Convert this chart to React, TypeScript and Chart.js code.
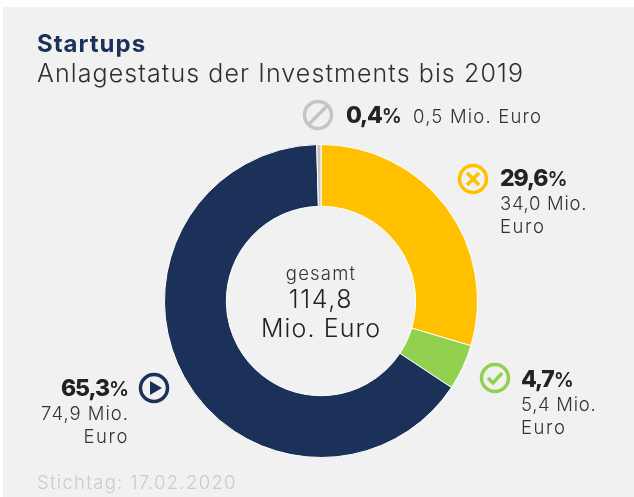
import React, { useEffect, useRef } from "react";
import { Chart, registerables } from "chart.js";

Chart.register(...registerables);

const categories = ["Beendet", "Realisiert", "Laufend", "Sonstige"];
const valuesMio = [34.0, 5.4, 74.9, 0.5];
const colors = ["#ffc000", "#92d14f", "#1c3159", "#c4c4c4"];
const percentLabels = ["29,6", "4,7", "65,3", "0,4"];
const amountLabels = [["34,0 Mio.", "Euro"], ["5,4 Mio.", "Euro"], ["74,9 Mio.", "Euro"], ["0,5 Mio. Euro"]];
const titleText = "Startups";
const subtitleText = "Anlagestatus der Investments bis 2019";
const centerLines = ["gesamt", "114,8", "Mio. Euro"];
const footerText = "Stichtag: 17.02.2020";

const FONT = "Inter, sans-serif";
const BG = "#f1f1f1";

function text(ctx: any, s: string, x: number, y: number, font: string, color: string, align: string = "left", spacing = 0) {
  ctx.font = font;
  ctx.fillStyle = color;
  ctx.textAlign = align;
  ctx.textBaseline = "alphabetic";
  ctx.letterSpacing = spacing + "px";
  ctx.fillText(s, x, y);
  ctx.letterSpacing = "0px";
}

function percent(ctx: any, value: string, x: number, y: number, right = false) {
  const f1 = `800 23px ${FONT}`;
  const f2 = `600 20px ${FONT}`;
  const sp = -1.1;
  ctx.font = f1;
  ctx.letterSpacing = sp + "px";
  const w1 = ctx.measureText(value).width;
  ctx.letterSpacing = "0px";
  ctx.font = f2;
  const w2 = ctx.measureText("%").width;
  const left = right ? x - w1 - w2 : x;
  text(ctx, value, left, y, f1, "#222222", "left", sp);
  text(ctx, "%", left + w1, y, f2, "#222222");
}

function ring(ctx: any, x: number, y: number, color: string, r = 13.5) {
  ctx.strokeStyle = color;
  ctx.lineWidth = 3.5;
  ctx.beginPath();
  ctx.arc(x, y, r, 0, Math.PI * 2);
  ctx.stroke();
}

function path(ctx: any, color: string, w: number, pts: number[][]) {
  ctx.strokeStyle = color;
  ctx.lineWidth = w;
  ctx.beginPath();
  pts.forEach((p, i) => (i ? ctx.lineTo(p[0], p[1]) : ctx.moveTo(p[0], p[1])));
  ctx.stroke();
}

const backgroundPlugin = {
  id: "panel",
  beforeDraw(chart: any) {
    const ctx = chart.ctx;
    ctx.save();
    ctx.fillStyle = BG;
    ctx.fillRect(3, 7, chart.width - 3, chart.height - 7);
    ctx.restore();
  },
};

const labelsPlugin = {
  id: "labels",
  afterDraw(chart: any) {
    const ctx = chart.ctx;
    ctx.save();
    const light = `300 18.5px ${FONT}`;
    const dark = "#333333";
    const sp = 1;
    text(ctx, titleText, 37, 52, `700 24px ${FONT}`, "#1c3159", "left", 1);
    text(ctx, subtitleText, 37, 82, `300 25px ${FONT}`, "#2e2e2e", "left", 1.1);

    // top
    ring(ctx, 318, 115, colors[3]);
    path(ctx, colors[3], 3.5, [[309, 124], [327, 106]]);
    percent(ctx, percentLabels[3], 346, 123);
    text(ctx, amountLabels[3][0], 413, 123, light, dark, "left", 1.2);

    // yellow
    ring(ctx, 473, 179, colors[0]);
    path(ctx, colors[0], 3.5, [[467, 173], [479, 185]]);
    path(ctx, colors[0], 3.5, [[479, 173], [467, 185]]);
    percent(ctx, percentLabels[0], 500, 186);
    text(ctx, amountLabels[0][0], 500, 210, light, dark, "left", 0.7);
    text(ctx, amountLabels[0][1], 500, 233, light, dark, "left", 1.6);

    // green
    ring(ctx, 495, 378, colors[1]);
    path(ctx, colors[1], 3.5, [[488, 378], [493, 383], [502, 373]]);
    percent(ctx, percentLabels[1], 521, 387);
    text(ctx, amountLabels[1][0], 521, 411, light, dark, "left", 0.7);
    text(ctx, amountLabels[1][1], 521, 434, light, dark, "left", 1.6);

    // navy
    ring(ctx, 154, 388, colors[2]);
    ctx.fillStyle = colors[2];
    ctx.beginPath();
    ctx.moveTo(150, 381);
    ctx.lineTo(162, 388);
    ctx.lineTo(150, 395);
    ctx.closePath();
    ctx.fill();
    percent(ctx, percentLabels[2], 129, 396, true);
    text(ctx, amountLabels[2][0], 129, 420, light, dark, "right", sp);
    text(ctx, amountLabels[2][1], 129, 443, light, dark, "right", 1.6);

    // centre
    text(ctx, centerLines[0], 321, 280, light, dark, "center", 1.2);
    text(ctx, centerLines[1], 321, 308, `300 25px ${FONT}`, "#222222", "center", 1.6);
    text(ctx, centerLines[2], 321, 337, `300 25px ${FONT}`, "#222222", "center", 1.1);

    // footer
    text(ctx, footerText, 37, 489, light, "#cbcbcb", "left", 1.3);
    ctx.restore();
  },
};

export default function App() {
  const ref = useRef<HTMLCanvasElement>(null);
  useEffect(() => {
    document.body.style.margin = "0";
    const chart = new Chart(ref.current as HTMLCanvasElement, {
      type: "doughnut",
      data: {
        labels: categories,
        datasets: [{ data: valuesMio, backgroundColor: colors, borderColor: "#ffffff", borderWidth: 1 }],
      },
      options: {
        responsive: false,
        animation: false,
        cutout: "60.5%",
        layout: { padding: { top: 144, bottom: 39, left: 164, right: 156 } },
        plugins: { legend: { display: false }, tooltip: { enabled: false }, title: { display: false } },
      },
      plugins: [backgroundPlugin, labelsPlugin],
    });
    return () => chart.destroy();
  }, []);
  return <canvas ref={ref} width={634} height={497} style={{ display: "block" }} />;
}
